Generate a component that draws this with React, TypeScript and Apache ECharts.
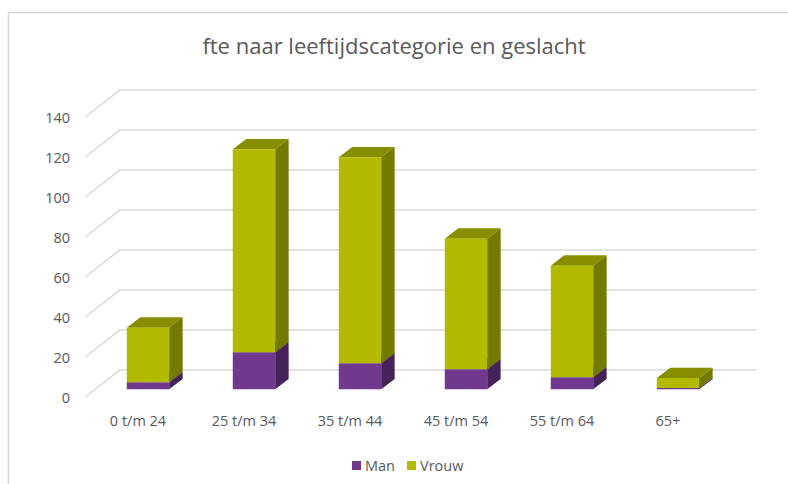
import React, { useEffect, useRef } from "react";
import * as echarts from "echarts";

const categories = ["0 t/m 24", "25 t/m 34", "35 t/m 44", "45 t/m 54", "55 t/m 64", "65+"];
const manValues = [3.5, 18.5, 13, 10, 6, 0.6];
const vrouwValues = [27.3, 101.5, 103, 65.3, 55.8, 5.0];
const yTicks = [0, 20, 40, 60, 80, 100, 120, 140];

const FONT = "'Open Sans', 'Noto Sans', sans-serif";
const DEPTH_X = 35;
const DEPTH_Y = -27;
const F0 = 0.285;
const F1 = 0.67;

const colorsMan = { front: "#71398D", side: "#45235A", top: "#582C70" };
const colorsVrouw = { front: "#B2BB00", side: "#727A00", top: "#878E00" };

function makeBarRender(col: { front: string; side: string; top: string }) {
  return (params: any, api: any) => {
    const c = api.value(0);
    const b = api.value(1);
    const t = api.value(2);
    const p0 = api.coord([c, b]);
    const p1 = api.coord([c, t]);
    const band = api.size([1, 0])[0];
    const w = band * 0.4;
    const ox = DEPTH_X * F0;
    const oy = DEPTH_Y * F0;
    const sx = DEPTH_X * (F1 - F0);
    const sy = DEPTH_Y * (F1 - F0);
    const xl = p0[0] - w / 2 + ox;
    const xr = xl + w;
    const yb = p0[1] + oy;
    const yt = p1[1] + oy;
    return {
      type: "group",
      children: [
        {
          type: "polygon",
          shape: { points: [[xr, yb], [xr + sx, yb + sy], [xr + sx, yt + sy], [xr, yt]] },
          style: { fill: col.side },
        },
        {
          type: "polygon",
          shape: { points: [[xl, yt], [xr, yt], [xr + sx, yt + sy], [xl + sx, yt + sy]] },
          style: { fill: col.top },
        },
        {
          type: "rect",
          shape: { x: xl, y: yt, width: w, height: yb - yt },
          style: { fill: col.front },
        },
      ],
    };
  };
}

export default function App() {
  const ref = useRef<HTMLDivElement>(null);
  useEffect(() => {
    if (!ref.current) return;
    const chart = echarts.init(ref.current, undefined, { renderer: "svg" });
    const manData = categories.map((_, i) => [i, 0, manValues[i]]);
    const vrouwData = categories.map((_, i) => [i, manValues[i], manValues[i] + vrouwValues[i]]);
    chart.setOption({
      animation: false,
      backgroundColor: "#ffffff",
      title: {
        text: "fte naar leeftijdscategorie en geslacht",
        left: "center",
        top: 29,
        textStyle: { fontFamily: FONT, fontSize: 22, fontWeight: "normal", color: "#595959" },
      },
      legend: {
        data: ["Man", "Vrouw"],
        left: 347,
        top: 453,
        icon: "rect",
        itemWidth: 9,
        itemHeight: 9,
        itemGap: 12,
        itemStyle: {},
        textStyle: { fontFamily: FONT, fontSize: 14.5, color: "#595959", padding: [0, 0, 0, -1] },
      },
      graphic: [
        {
          type: "rect",
          shape: { x: 8.5, y: 12.5, width: 900, height: 600 },
          style: { fill: "none", stroke: "#D9D9D9", lineWidth: 1.5 },
          silent: true,
        },
      ],
      grid: { left: 85, top: 117, width: 636, height: 280 },
      xAxis: {
        type: "category",
        data: categories,
        axisLine: { show: false },
        axisTick: { show: false },
        axisLabel: { margin: 16, fontFamily: FONT, fontSize: 14.5, color: "#595959" },
      },
      yAxis: {
        type: "value",
        min: 0,
        max: 140,
        interval: 20,
        splitLine: { show: false },
        axisLine: { show: false },
        axisTick: { show: false },
        axisLabel: { margin: 15, fontFamily: FONT, fontSize: 14.5, color: "#595959" },
      },
      series: [
        {
          type: "custom",
          name: "grid3d",
          z: 1,
          silent: true,
          data: yTicks.map((v) => [0, v]),
          encode: { x: 0, y: 1 },
          renderItem: (params: any, api: any) => {
            const cs = params.coordSys;
            const p = api.coord([0, api.value(1)]);
            const y = p[1];
            return {
              type: "polyline",
              shape: {
                points: [
                  [cs.x, y],
                  [cs.x + DEPTH_X, y + DEPTH_Y],
                  [cs.x + cs.width + DEPTH_X, y + DEPTH_Y],
                ],
              },
              style: { stroke: "#D9D9D9", lineWidth: 1.5, fill: "none" },
            };
          },
        },
        {
          type: "custom",
          name: "Man",
          z: 2,
          itemStyle: { color: colorsMan.front },
          data: manData,
          encode: { x: 0, y: [1, 2] },
          renderItem: makeBarRender(colorsMan),
        },
        {
          type: "custom",
          name: "Vrouw",
          z: 3,
          itemStyle: { color: colorsVrouw.front },
          data: vrouwData,
          encode: { x: 0, y: [1, 2] },
          renderItem: makeBarRender(colorsVrouw),
        },
      ],
    });
    return () => chart.dispose();
  }, []);
  return <div ref={ref} style={{ width: 788, height: 484, position: "absolute", left: 0, top: 0 }} />;
}
